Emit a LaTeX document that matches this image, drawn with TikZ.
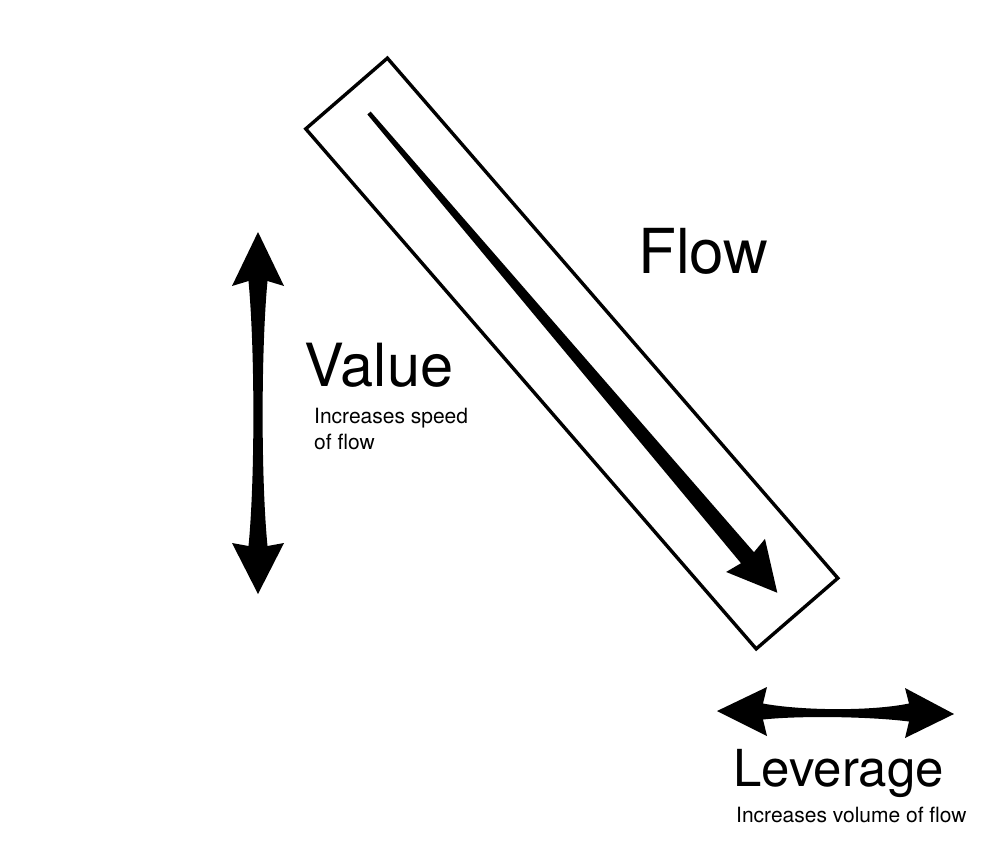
\documentclass[tikz,border=0pt]{standalone}
\usepackage{fontspec}
\setmainfont{TeX Gyre Heros}
\usepackage{tikz}

\begin{document}
\begin{tikzpicture}[x=1pt,y=-1pt,
        bigtext/.style={inner sep=0,anchor=base west,font=\fontsize{#1}{#1}\selectfont},
        smalltext/.style={inner sep=0,anchor=base west,font=\fontsize{21}{26}\selectfont},
        blackarrow/.style={fill=black}]
        \path[fill=white] (0,0) rectangle (1006,863);
        \useasboundingbox (0,0) rectangle (1006,863);

        \node[draw,line width=3.4pt,minimum width=688pt,minimum height=108pt,inner sep=0,rotate=-49.1] (box) at (571.8,353.5) {};
        \begin{scope}[shift={(369,113)},rotate=-49.6]
        \fill[blackarrow] (0,2.2) -- (584,8.5) -- (581,25.5) -- (630,0) -- (581,-25.5) -- (584,-8.5) -- (0,-2.2) -- cycle;
        \end{scope}

        \fill[blackarrow] (258,232) -- (284,286) -- (267.5,281) .. controls (261,350) and (261,480) .. (267.5,546)
            -- (284,543) -- (258,594) -- (232,543) -- (248.5,546) .. controls (255,480) and (255,350) .. (248.5,281)
            -- (232,286) -- cycle;
        \fill[blackarrow] (717,711) -- (767,687) -- (763,703.5) .. controls (800,710.5) and (870,711.5) .. (909,703.5)
            -- (905,688) -- (954,714) -- (905,738) -- (909,721.5) .. controls (870,716.5) and (800,715.5) .. (763,719.5)
            -- (767,736) -- cycle;

        \node[bigtext=62] (flow) at (638,273.3) {Flow};
        \node[bigtext=59.5] (value) at (304.5,386.7) {Value};
        \node[smalltext,align=left] (valuesub) at (314,449.3) {Increases speed\\of flow};
        \node[bigtext=51] (leverage) at (733,786.7) {Leverage};
        \node[smalltext] (leveragesub) at (736,822.7) {Increases volume of flow};
\end{tikzpicture}
\end{document}
